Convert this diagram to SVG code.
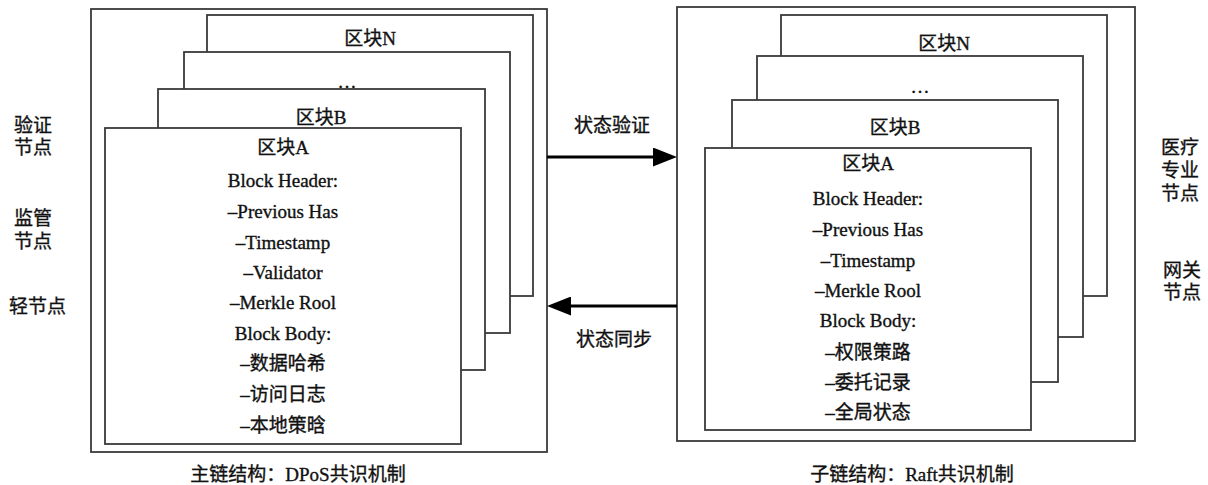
<svg xmlns="http://www.w3.org/2000/svg" width="1208" height="485" viewBox="0 0 1208 485">
<style>
.frame{fill:#fff;stroke:#3a3a3a;stroke-width:1.8}
text{font-family:"Liberation Serif","Noto Sans CJK SC",serif;font-size:19px;fill:#111;stroke:#111;stroke-width:0.35;text-anchor:middle}
.side{text-anchor:start}
.arrow{stroke:#000;stroke-width:3.2;fill:none}
</style>
<defs>
<marker id="ah" markerUnits="userSpaceOnUse" markerWidth="24" markerHeight="19" refX="3" refY="9.5" orient="auto">
<path d="M0,0 L24,9.5 L0,19 z" fill="#000"/>
</marker>
</defs>
<rect width="1208" height="485" fill="#fff"/>

<g id="main-chain">
<rect class="frame" x="91" y="9" width="456" height="443"/>
<g id="main-block-n"><rect class="frame" x="207" y="15" width="326" height="281"/><text x="370" y="45">区块N</text></g>
<g id="main-block-dots"><rect class="frame" x="184" y="52" width="326" height="281"/><text x="347" y="88">…</text></g>
<g id="main-block-b"><rect class="frame" x="158" y="89" width="327" height="281"/><text x="321" y="124">区块B</text></g>
<g id="main-block-a"><rect class="frame" x="105" y="128" width="356" height="316"/>
<text x="283" y="154">区块A</text>
<text x="283" y="187">Block Header:</text>
<text x="283" y="218">–Previous Has</text>
<text x="283" y="249">–Timestamp</text>
<text x="283" y="279">–Validator</text>
<text x="283" y="309">–Merkle Rool</text>
<text x="283" y="340">Block Body:</text>
<text x="283" y="370">–数据哈希</text>
<text x="283" y="401">–访问日志</text>
<text x="283" y="432">–本地策晗</text>
</g>
<text x="298" y="481">主链结构：DPoS共识机制</text>
</g>

<g id="sub-chain">
<rect class="frame" x="677" y="7" width="458" height="434"/>
<g id="sub-block-n"><rect class="frame" x="781" y="15" width="326" height="281"/><text x="944" y="50">区块N</text></g>
<g id="sub-block-dots"><rect class="frame" x="757" y="56" width="326" height="281"/><text x="920" y="93">…</text></g>
<g id="sub-block-b"><rect class="frame" x="732" y="100" width="326" height="282"/><text x="895" y="134">区块B</text></g>
<g id="sub-block-a"><rect class="frame" x="705" y="148" width="326" height="282"/>
<text x="868" y="170">区块A</text>
<text x="868" y="205">Block Header:</text>
<text x="868" y="236">–Previous Has</text>
<text x="868" y="267">–Timestamp</text>
<text x="868" y="297">–Merkle Rool</text>
<text x="868" y="327">Block Body:</text>
<text x="868" y="359">–权限策路</text>
<text x="868" y="389">–委托记录</text>
<text x="868" y="419">–全局状态</text>
</g>
<text x="912" y="481">子链结构：Raft共识机制</text>
</g>

<g id="main-nodes">
<text class="side" x="14" y="132">验证</text>
<text class="side" x="14" y="154">节点</text>
<text class="side" x="14" y="225">监管</text>
<text class="side" x="14" y="248">节点</text>
<text class="side" x="9" y="313">轻节点</text>
</g>
<g id="sub-nodes">
<text class="side" x="1161" y="154">医疗</text>
<text class="side" x="1161" y="177">专业</text>
<text class="side" x="1161" y="200">节点</text>
<text class="side" x="1163" y="277">网关</text>
<text class="side" x="1163" y="299">节点</text>
</g>

<g id="connectors">
<path class="arrow" d="M547,157 L656,157" marker-end="url(#ah)"/>
<path class="arrow" d="M677,306 L568,306" marker-end="url(#ah)"/>
<text x="612" y="132">状态验证</text>
<text x="614" y="346">状态同步</text>
</g>
</svg>
